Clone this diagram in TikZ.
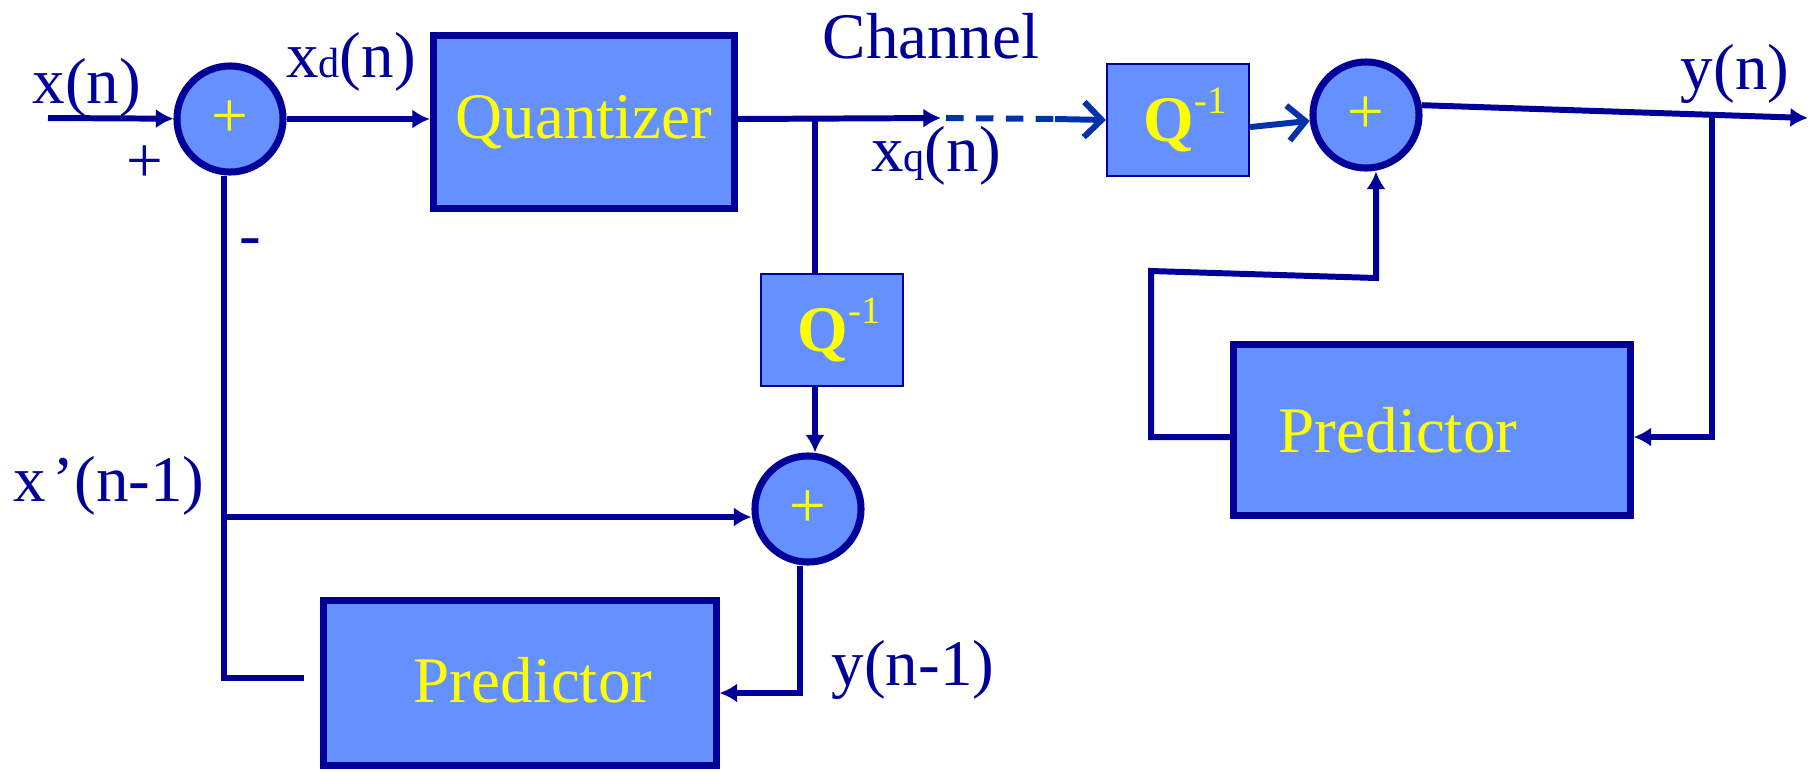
\documentclass[tikz,border=0pt]{standalone}
\usepackage{fontspec}
\setmainfont{LiberationSerif}[Extension=.ttf, UprightFont=*-Regular, BoldFont=*-Bold,
  ItalicFont=*-Italic, BoldItalicFont=*-BoldItalic]
\usetikzlibrary{arrows.meta}
\definecolor{navy}{RGB}{0,0,153}
\definecolor{chanblue}{RGB}{0,51,170}
\definecolor{boxblue}{RGB}{100,145,255}
\definecolor{signyellow}{RGB}{255,255,0}
\newcommand{\dpcmfont}{\fontsize{18.5}{22}\selectfont}
\newcommand{\subfont}{\fontsize{12}{12}\selectfont}
\newcommand{\Qinv}{\hspace*{4pt}\textbf{Q}\raisebox{0.42em}{\fontsize{11}{11}\selectfont -1}}
\tikzset {
  >={Latex[length=5pt,width=5.5pt]},
  % big blocks (quantizer, predictors)
  block/.style = {draw=navy, fill=boxblue, line width=2pt, text=signyellow, font=\dpcmfont},
  % the two dequantizer boxes
  deq/.style = {draw=navy, fill=boxblue, line width=0.6pt, text=signyellow, font=\dpcmfont,
    minimum width=1.42cm, minimum height=1.12cm},
  % summing junction
  sum/.style = {draw=navy, fill=boxblue, circle, line width=2pt, minimum size=1.06cm,
    inner sep=0, text=signyellow, font=\dpcmfont},
  % signal lines
  wire/.style = {navy, line width=1.7pt},
  chan/.style = {chanblue, line width=1.7pt, >={Straight Barb[length=5pt,width=10pt]}},
  % signal names
  lab/.style = {text=navy, font=\dpcmfont, inner sep=0},
}

\begin{document}
\begin{tikzpicture}[x=0.01cm, y=-0.01cm]
  \useasboundingbox (0,0) rectangle (1812,772);

  % encoder
  \node[sum] (s1) at (230,119) {+};
  \node[block, minimum width=3.01cm, minimum height=1.72cm] (q) at (584,122)
    {\raisebox{-3pt}{Quantizer}};
  \node[deq] (qi1) at (832,330) {\Qinv};
  \node[sum] (s3) at (808,509) {+};
  \node[block, minimum width=3.92cm, minimum height=1.64cm] (p1) at (520,683)
    {\hspace*{0.26cm}\raisebox{2pt}{Predictor}};

  % decoder
  \node[deq] (qi2) at (1178,120) {\Qinv};
  \node[sum] (s2) at (1366,115) {+};
  \node[block, minimum width=3.96cm, minimum height=1.71cm] (p2) at (1432,430)
    {\raisebox{-2pt}{Predictor}\hspace*{0.68cm}};

  \coordinate (in) at (48,118);
  \coordinate (br1) at (815,118);
  \coordinate (ch) at (941,118);
  \coordinate (d1) at (946,118);
  \coordinate (d2) at (1055,119);
  \coordinate (out) at (1808,118);
  \coordinate (br2) at (1712,116);
  \coordinate (c2) at (1712,437);
  \coordinate (f1) at (1151,271);
  \coordinate (f2) at (1376,278);
  \coordinate (j1) at (224,517);
  \coordinate (lb) at (224,678);
  \coordinate (le) at (304,678);
  \coordinate (c3) at (800,693);

  \draw [wire, ->] (in) -- (s1);
  \draw [wire, ->] (s1.east) -- (s1.east -| q.west);
  \draw [wire, ->] (q.east |- s1.east) -- (ch);
  \draw [wire] (br1) -- (br1 |- qi1.north);
  \draw [wire, ->] (br1 |- qi1.south) -- (br1 |- s3.north);
  \draw [wire] (lb |- s1.south) -- (lb) -- (le);
  \draw [wire, ->] (j1) -- (j1 -| s3.west);
  \draw [wire, ->] (c3 |- s3.south) -- (c3) -- (c3 -| p1.east);

  \draw [chan, dashed, dash pattern=on 5pt off 3.5pt] (d1) -- (d2);
  \draw [chan, ->] (d2) -- (qi2.west);
  \draw [chan, ->] ([yshift=-2pt]qi2.east) -- (s2);
  \draw [wire, ->] (s2.10) -- (out);
  \draw [wire, ->] (br2) -- (c2) -- (c2 -| p2.east);
  \draw [wire, ->] (c2 -| p2.west) -| (f1) -- (f2) -- (f2 |- s2.south);

  \node[lab] (xn) at (87,88) {x(n)};
  \node[lab] (pl) at (145,164) {+};
  \node[lab] (mi) at (250,248) {-};
  \node[lab] (xd) at (351,62) {x{\subfont d}(n)};
  \node[lab] (chl) at (931,36) {Channel};
  \node[lab] (xq) at (936,156) {x{\subfont q}(n)};
  \node[lab] (yn) at (1735,74) {y(n)};
  \node[lab] (xp) at (109,486) {x\kern2pt’(n-1)};
  \node[lab] (yn1) at (913,670) {y(n-1)};
\end{tikzpicture}
\end{document}
